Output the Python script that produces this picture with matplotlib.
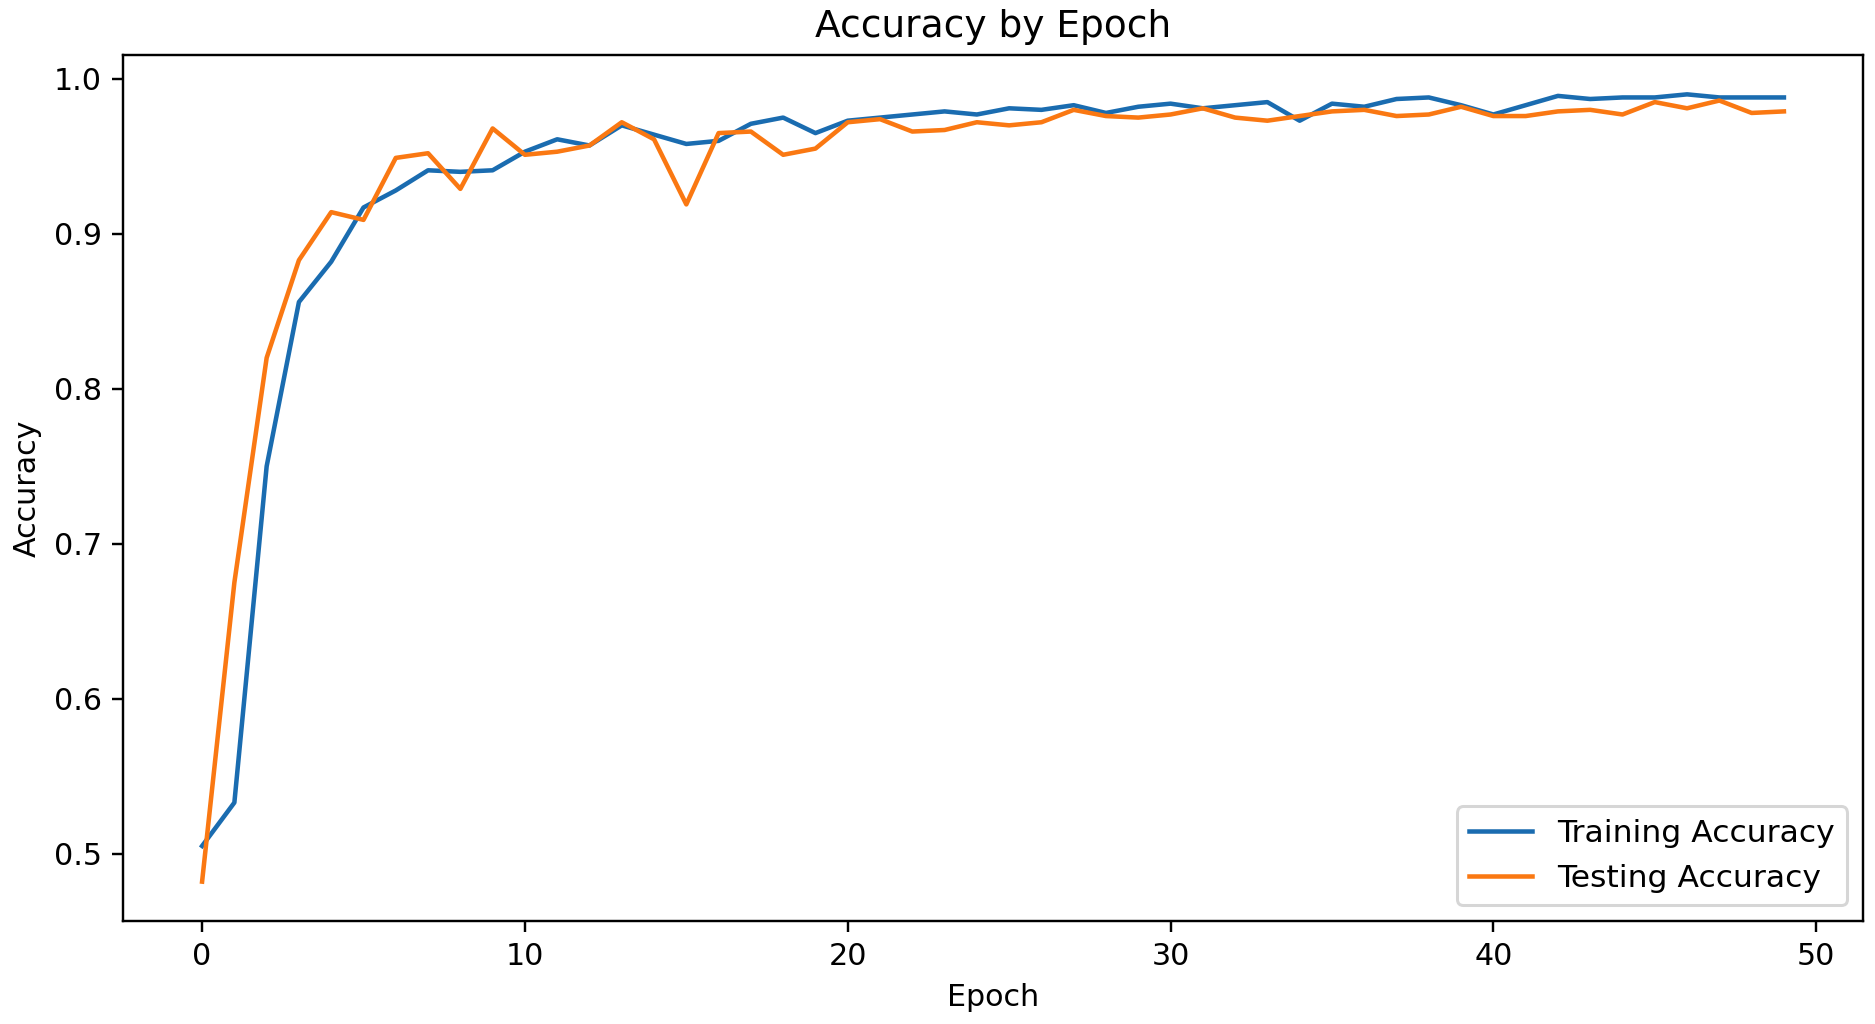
import matplotlib
matplotlib.use("Agg")
import matplotlib.pyplot as plt

epochs = list(range(50))
train_acc = [0.505, 0.533, 0.750, 0.856, 0.882, 0.917, 0.928, 0.941, 0.940, 0.941,
             0.953, 0.961, 0.957, 0.970, 0.964, 0.958, 0.960, 0.971, 0.975, 0.965,
             0.973, 0.975, 0.977, 0.979, 0.977, 0.981, 0.980, 0.983, 0.978, 0.982,
             0.984, 0.981, 0.983, 0.985, 0.973, 0.984, 0.982, 0.987, 0.988, 0.983,
             0.977, 0.983, 0.989, 0.987, 0.988, 0.988, 0.990, 0.988, 0.988, 0.988]
test_acc = [0.482, 0.675, 0.820, 0.883, 0.914, 0.909, 0.949, 0.952, 0.929, 0.968,
            0.951, 0.953, 0.957, 0.972, 0.961, 0.919, 0.965, 0.966, 0.951, 0.955,
            0.972, 0.974, 0.966, 0.967, 0.972, 0.970, 0.972, 0.980, 0.976, 0.975,
            0.977, 0.981, 0.975, 0.973, 0.976, 0.979, 0.980, 0.976, 0.977, 0.982,
            0.976, 0.976, 0.979, 0.980, 0.977, 0.985, 0.981, 0.986, 0.978, 0.979]
labels = ["Training Accuracy", "Testing Accuracy"]
title = "Accuracy by Epoch"
xlabel = "Epoch"
ylabel = "Accuracy"

S = 2.17
plt.rcParams.update({
    "font.size": 10 * S,
    "axes.titlesize": 27,
    "legend.fontsize": 22.6,
    "lines.linewidth": 1.5 * S,
    "axes.linewidth": 0.8 * S,
    "patch.linewidth": 1.0 * S,
    "xtick.major.size": 3.5 * S,
    "ytick.major.size": 3.5 * S,
    "xtick.major.width": 0.8 * S,
    "ytick.major.width": 0.8 * S,
    "xtick.major.pad": 3.5 * S,
    "ytick.major.pad": 3.5 * S,
    "axes.titlepad": 6 * S,
    "axes.labelpad": 4 * S,
})

fig = plt.figure(figsize=(18.75, 10.24), dpi=100)
ax = fig.add_axes([0.0656, 0.1006, 0.928, 0.8457])
ax.plot(epochs, train_acc, color="#1a6cb0", label=labels[0])
ax.plot(epochs, test_acc, color="#fa7812", label=labels[1])
ax.set_title(title)
ax.set_xlabel(xlabel)
ax.set_ylabel(ylabel)
ax.legend(loc="lower right")
fig.savefig("out.png", dpi=100)
